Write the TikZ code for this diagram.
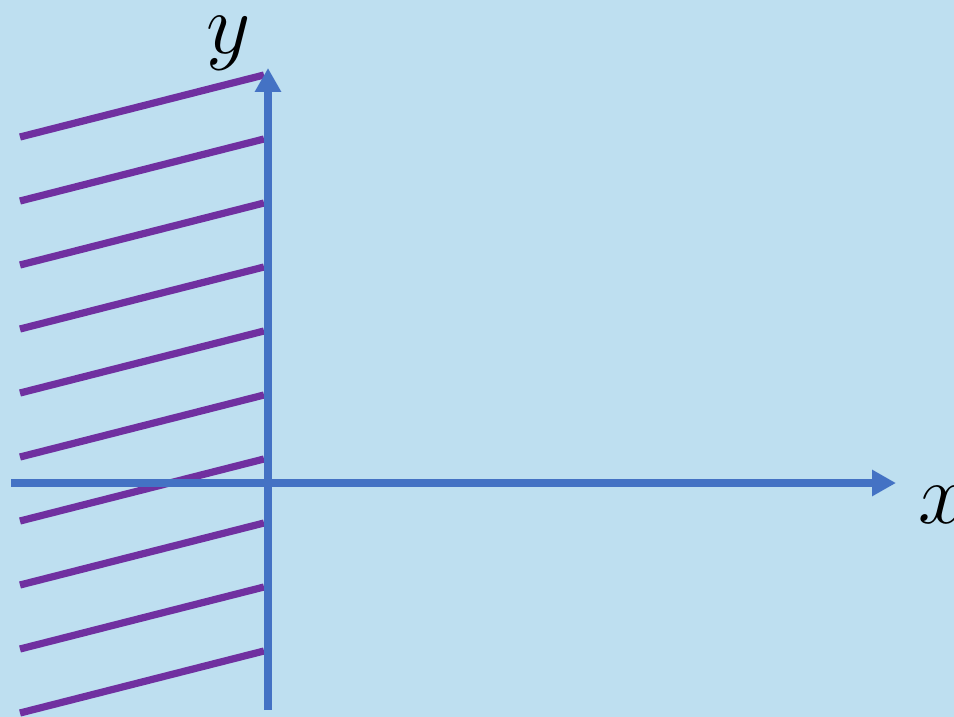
\documentclass[tikz,border=0pt]{standalone}
\usepackage{graphicx}
\usetikzlibrary{arrows.meta}
\definecolor{bgblue}{RGB}{190,223,240}
\definecolor{axisblue}{RGB}{68,114,196}
\definecolor{hatchpurple}{RGB}{112,48,160}
\newcommand{\biglabel}[1]{\scalebox{3.46}{\Huge$#1$}}
\begin{document}
\begin{tikzpicture}[x=1pt,y=-1pt,
  axisline/.style={draw=axisblue,line width=7.5pt,-{Triangle[length=24pt,width=25pt]}},
  hatchline/.style={draw=hatchpurple,line width=7.2pt},
  axislabel/.style={inner sep=0pt,anchor=base west}]
\fill[bgblue] (0,0) rectangle (954,717);
\useasboundingbox (0,0) rectangle (954,717);
\foreach \k in {0,...,9}{
  \draw[hatchline] (20,{137+64*\k}) -- (264,{75+64*\k});
}
\coordinate (xstart) at (11,483);
\coordinate (xend) at (896,483);
\coordinate (ystart) at (268,710);
\coordinate (yend) at (268,68);
\draw[axisline] (xstart) -- (xend);
\draw[axisline] (ystart) -- (yend);
\node[axislabel] (xlab) at (918,523) {\biglabel{x}};
\node[axislabel] (ylab) at (206,54) {\biglabel{y}};
\end{tikzpicture}
\end{document}
